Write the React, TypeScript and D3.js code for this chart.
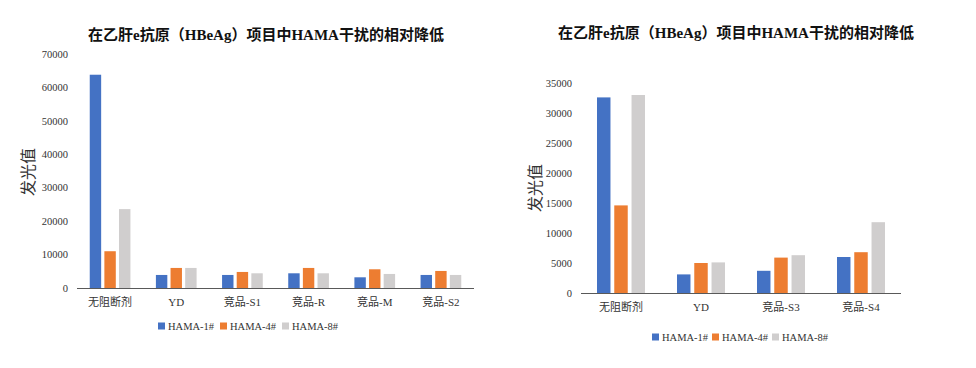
import React, { useEffect, useRef } from 'react';
import * as d3 from 'd3';

const seriesNames = ['HAMA-1#', 'HAMA-4#', 'HAMA-8#'];
const colors = ['#4472C4', '#ED7D31', '#D0CECE'];
const titleText = '在乙肝e抗原（HBeAg）项目中HAMA干扰的相对降低';

// left chart
const leftCategories = ['无阻断剂', 'YD', '竞品-S1', '竞品-R', '竞品-M', '竞品-S2'];
const leftHama1 = [63800, 3900, 3900, 4400, 3200, 3900];
const leftHama4 = [11000, 6000, 4800, 6000, 5600, 5100];
const leftHama8 = [23600, 6000, 4400, 4400, 4200, 3900];
const leftTicks = [0, 10000, 20000, 30000, 40000, 50000, 60000, 70000];

// right chart
const rightCategories = ['无阻断剂', 'YD', '竞品-S3', '竞品-S4'];
const rightHama1 = [32600, 3100, 3700, 6000];
const rightHama4 = [14600, 5000, 5900, 6800];
const rightHama8 = [33000, 5100, 6300, 11800];
const rightTicks = [0, 5000, 10000, 15000, 20000, 25000, 30000, 35000];

const SERIF = '"Liberation Serif", "Noto Sans CJK SC", serif';

type Layout = {
  x0: number; x1: number; y0: number; y1: number;
  groupPad: number; barPad: number;
  titleX: number; titleY: number;
  yLabelX: number; yLabelY: number;
  catY: number; legendX: number; legendY: number; legendStep: number;
};

function drawChart(
  g: d3.Selection<SVGGElement, unknown, null, undefined>,
  categories: string[],
  series: number[][],
  ticks: number[],
  L: Layout
) {
  const x = d3.scaleBand<string>()
    .domain(categories)
    .range([L.x0, L.x1])
    .paddingInner(L.groupPad)
    .paddingOuter(L.groupPad / 2);
  const xs = d3.scaleBand<string>()
    .domain(seriesNames)
    .range([0, x.bandwidth()])
    .paddingInner(L.barPad);
  const y = d3.scaleLinear()
    .domain([0, ticks[ticks.length - 1]])
    .range([L.y0, L.y1]);

  // title
  g.append('text')
    .attr('x', L.titleX)
    .attr('y', L.titleY)
    .attr('text-anchor', 'middle')
    .attr('font-family', SERIF)
    .attr('font-weight', 'bold')
    .attr('font-size', 15)
    .attr('fill', '#111')
    .text(titleText);

  // y ticks
  g.append('g')
    .selectAll('text')
    .data(ticks)
    .join('text')
    .attr('x', L.x0 - 9)
    .attr('y', d => y(d))
    .attr('dy', '0.35em')
    .attr('text-anchor', 'end')
    .attr('font-family', SERIF)
    .attr('font-size', 10.5)
    .attr('fill', '#333')
    .text(d => String(d));

  // y label
  g.append('text')
    .attr('transform', `translate(${L.yLabelX},${L.yLabelY}) rotate(-90)`)
    .attr('text-anchor', 'middle')
    .attr('dy', '0.35em')
    .attr('font-family', SERIF)
    .attr('font-size', 16)
    .attr('fill', '#333')
    .text('发光值');

  // bars
  const rows = categories.map((c, i) => ({ c, vals: series.map(s => s[i]) }));
  g.append('g')
    .selectAll('g')
    .data(rows)
    .join('g')
    .attr('transform', d => `translate(${x(d.c)},0)`)
    .selectAll('rect')
    .data(d => d.vals.map((v, k) => ({ v, k })))
    .join('rect')
    .attr('x', d => xs(seriesNames[d.k])!)
    .attr('y', d => y(d.v))
    .attr('width', xs.bandwidth())
    .attr('height', d => L.y0 - y(d.v))
    .attr('fill', d => colors[d.k]);

  // axis line
  g.append('line')
    .attr('x1', L.x0).attr('x2', L.x1)
    .attr('y1', L.y0 + 0.5).attr('y2', L.y0 + 0.5)
    .attr('stroke', '#595959')
    .attr('stroke-width', 1);

  // category labels
  g.append('g')
    .selectAll('text')
    .data(categories)
    .join('text')
    .attr('x', d => x(d)! + x.bandwidth() / 2)
    .attr('y', L.catY)
    .attr('dy', '0.35em')
    .attr('text-anchor', 'middle')
    .attr('font-family', SERIF)
    .attr('font-size', 11)
    .attr('fill', '#333')
    .text(d => d);

  // legend
  const lg = g.append('g')
    .selectAll('g')
    .data(seriesNames)
    .join('g')
    .attr('transform', (d, i) => `translate(${L.legendX + i * L.legendStep},${L.legendY})`);
  lg.append('rect')
    .attr('x', 0).attr('y', -3.5)
    .attr('width', 7).attr('height', 7)
    .attr('fill', (d, i) => colors[i]);
  lg.append('text')
    .attr('x', 10)
    .attr('dy', '0.35em')
    .attr('font-family', SERIF)
    .attr('font-size', 10.5)
    .attr('fill', '#333')
    .text(d => d);
}

const App = () => {
  const ref = useRef<SVGSVGElement>(null);

  useEffect(() => {
    const svg = d3.select(ref.current!);
    svg.selectAll('*').remove();

    drawChart(svg.append('g'), leftCategories, [leftHama1, leftHama4, leftHama8], leftTicks, {
      x0: 77, x1: 474, y0: 288, y1: 54,
      groupPad: 0.385, barPad: 0.22,
      titleX: 266, titleY: 40,
      yLabelX: 28, yLabelY: 172,
      catY: 302, legendX: 158, legendY: 326, legendStep: 62,
    });

    drawChart(svg.append('g'), rightCategories, [rightHama1, rightHama4, rightHama8], rightTicks, {
      x0: 581, x1: 901, y0: 293, y1: 83,
      groupPad: 0.4, barPad: 0.22,
      titleX: 736, titleY: 38,
      yLabelX: 535, yLabelY: 188,
      catY: 307, legendX: 652, legendY: 337, legendStep: 60,
    });
  }, []);

  return (
    <svg
      ref={ref}
      width={976}
      height={368}
      style={{ position: 'absolute', left: 0, top: 0, background: '#fff' }}
    />
  );
};

export default App;
